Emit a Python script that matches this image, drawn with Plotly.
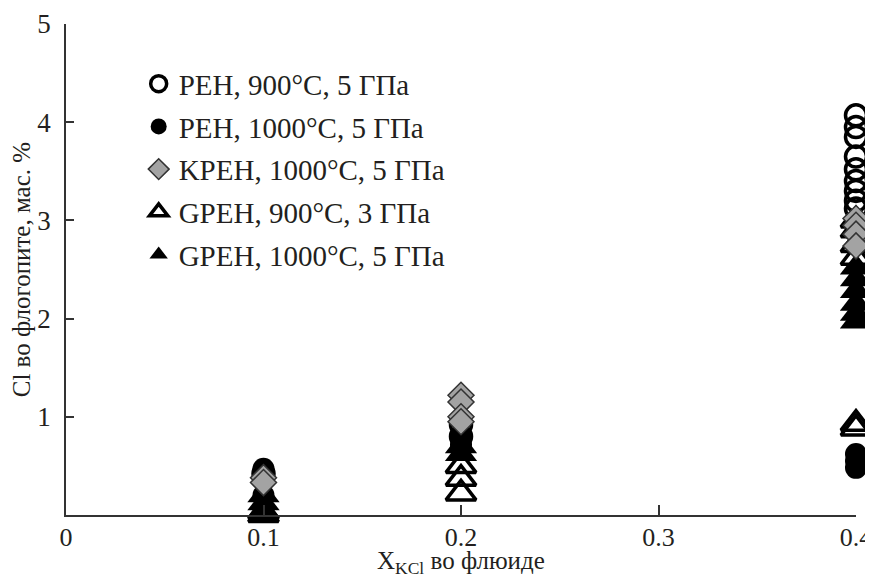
import plotly.graph_objects as go

# ---- data ----
x_peh900 = [0.1, 0.2, 0.2] + [0.4] * 9
y_peh900 = [0.42, 0.92, 0.80, 4.07, 3.95, 3.85, 3.65, 3.52, 3.40, 3.30, 3.20, 3.12]

x_peh1000 = [0.1, 0.1, 0.1, 0.2, 0.2, 0.2, 0.4, 0.4, 0.4]
y_peh1000 = [0.47, 0.40, 0.20, 0.80, 0.72, 0.68, 0.62, 0.55, 0.48]

x_kpeh = [0.1, 0.1, 0.2, 0.2, 0.2, 0.2, 0.4, 0.4, 0.4, 0.4]
y_kpeh = [0.38, 0.33, 1.22, 1.15, 1.00, 0.95, 3.02, 2.95, 2.86, 2.74]

x_gpeh900 = [0.1, 0.1, 0.2, 0.2, 0.2, 0.4, 0.4, 0.4, 0.4, 0.4, 0.4]
y_gpeh900 = [0.03, 0.0, 0.50, 0.37, 0.22, 3.00, 2.90, 2.75, 2.62, 0.93, 0.88]

x_gpeh1000 = [0.1, 0.1, 0.1, 0.2, 0.2, 0.4, 0.4, 0.4, 0.4, 0.4, 0.4]
y_gpeh1000 = [0.20, 0.12, 0.05, 0.70, 0.62, 2.52, 2.40, 2.28, 2.15, 2.05, 1.97]

names = ["PEH, 900°C, 5 ГПа", "PEH, 1000°C, 5 ГПа", "KPEH, 1000°C, 5 ГПа",
         "GPEH, 900°C, 3 ГПа", "GPEH, 1000°C, 5 ГПа"]

x_ticks = [0, 0.1, 0.2, 0.3, 0.4]
x_ticklabels = ["0", "0.1", "0.2", "0.3", "0.4"]
y_ticks = [1, 2, 3, 4, 5]
y_ticklabels = ["1", "2", "3", "4", "5"]

x_title = "X<sub>KCl</sub> во флюиде"
y_title = "Cl во флогопите, мас. %"

FONT = "Liberation Serif, Times New Roman, serif"
TXT = "#231f20"

fig = go.Figure()

traces = {}
traces[0] = go.Scatter(x=x_peh900, y=y_peh900, mode="markers", name=names[0],
                       marker=dict(symbol="circle-open", size=21, color="black",
                                   line=dict(width=3.5, color="black")))
traces[1] = go.Scatter(x=x_peh1000, y=y_peh1000, mode="markers", name=names[1],
                       marker=dict(symbol="circle", size=22, color="black",
                                   line=dict(width=0)))
traces[2] = go.Scatter(x=x_kpeh, y=y_kpeh, mode="markers", name=names[2],
                       marker=dict(symbol="diamond", size=20, color="#a3a3a3",
                                   line=dict(width=1.5, color="#333333")))
traces[3] = go.Scatter(x=x_gpeh900, y=y_gpeh900, mode="markers", name=names[3],
                       marker=dict(symbol="triangle-up-open", size=26, color="black",
                                   line=dict(width=3.5, color="black")))
traces[4] = go.Scatter(x=x_gpeh1000, y=y_gpeh1000, mode="markers", name=names[4],
                       marker=dict(symbol="triangle-up", size=28, color="black",
                                   line=dict(width=0)))

for i in [0, 1, 3, 4, 2]:
    t = traces[i]
    t.update(cliponaxis=False, legendgroup=str(i), legendrank=i + 1)
    fig.add_trace(t)

# page body has an 8px default margin; figure is sized to fill the 873x577 window
fig.update_layout(
    width=865, height=569,
    margin=dict(l=58, r=17, t=16, b=62),
    paper_bgcolor="white", plot_bgcolor="white",
    font=dict(family=FONT, size=24, color=TXT),
    showlegend=True,
    legend=dict(x=0.092, y=0.93, xanchor="left", yanchor="top",
                bgcolor="rgba(0,0,0,0)", font=dict(family=FONT, size=29, color=TXT),
                tracegroupgap=2, itemsizing="trace", itemwidth=30),
    xaxis=dict(range=[0, 0.4], tickvals=x_ticks, ticktext=x_ticklabels,
               showgrid=False, zeroline=False, showline=True, linecolor="#333333",
               linewidth=1.5, ticks="inside", ticklen=10, tickcolor="#333333",
               tickwidth=1.5, automargin=False, ticklabelstandoff=-2,
               ticklabeloverflow="allow",
               tickfont=dict(family=FONT, size=26, color=TXT)),
    yaxis=dict(range=[0, 5], tickvals=y_ticks, ticktext=y_ticklabels,
               showgrid=False, zeroline=False, showline=True, linecolor="#333333",
               linewidth=1.5, ticks="inside", ticklen=8, tickcolor="#333333",
               tickwidth=1.5, automargin=False, ticklabelstandoff=8,
               ticklabeloverflow="allow",
               tickfont=dict(family=FONT, size=27, color=TXT)),
    annotations=[
        dict(text=x_title, xref="paper", yref="paper", x=0.5, y=-0.096,
             xanchor="center", yanchor="middle", showarrow=False,
             font=dict(family=FONT, size=25, color=TXT)),
        dict(text=y_title, xref="paper", yref="paper", x=-0.056, y=0.5,
             xanchor="center", yanchor="middle", showarrow=False, textangle=-90,
             font=dict(family=FONT, size=25, color=TXT)),
    ],
)

fig.write_html("out.html")
